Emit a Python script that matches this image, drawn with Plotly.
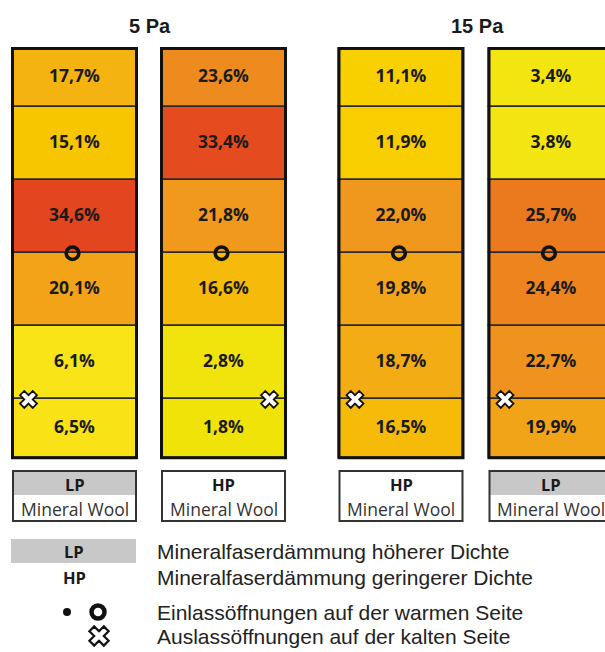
import numpy as np
import plotly.graph_objects as go

# ---------------- data ----------------
pressure_titles = ["5 Pa", "15 Pa"]
column_material = ["LP", "HP", "HP", "LP"]
material_name = "Mineral Wool"
# share of airflow per layer, top to bottom (%)
col_5pa_lp = [17.7, 15.1, 34.6, 20.1, 6.1, 6.5]
col_5pa_hp = [23.6, 33.4, 21.8, 16.6, 2.8, 1.8]
col_15pa_hp = [11.1, 11.9, 22.0, 19.8, 18.7, 16.5]
col_15pa_lp = [3.4, 3.8, 25.7, 24.4, 22.7, 19.9]
columns = [col_5pa_lp, col_5pa_hp, col_15pa_hp, col_15pa_lp]
inlet_boundary = 3     # boundary index of inlet opening (between rows 3 and 4)
outlet_boundary = 5    # boundary index of outlet opening
outlet_side = ["left", "right", "left", "left"]
legend_material = ["LP", "HP"]
legend_material_text = ["Mineralfaserdämmung höherer Dichte",
                        "Mineralfaserdämmung geringerer Dichte"]
legend_opening_text = ["Einlassöffnungen auf der warmen Seite",
                       "Auslassöffnungen auf der kalten Seite"]

# ---------------- layout constants ----------------
W, H = 605, 652
col_x = [74.5, 223.5, 401.0, 551.0]
col_w = 124.0
top = 48.5
unit = 73.1
row_h = np.array([0.8, 1, 1, 1, 1, 0.8]) * unit
bounds = top + np.concatenate([[0], np.cumsum(row_h)])
centers = (bounds[:-1] + bounds[1:]) / 2

colorscale = [
    [0.00, "#EDE000"],
    [0.10, "#F2E510"],
    [0.18, "#F9E418"],
    [0.32, "#F8D000"],
    [0.43, "#F8C600"],
    [0.50, "#F5B410"],
    [0.56, "#F2A617"],
    [0.63, "#F0971E"],
    [0.68, "#EE891E"],
    [0.735, "#EB7A1F"],
    [0.86, "#E6601F"],
    [1.00, "#E3431F"],
]

fig = go.Figure()

n_rows = len(col_5pa_lp)
for r in range(n_rows):
    vals = [c[r] for c in columns]
    fig.add_trace(go.Bar(
        x=col_x, y=[row_h[r]] * len(col_x), base=[bounds[r]] * len(col_x),
        width=col_w,
        marker=dict(color=vals, colorscale=colorscale, cmin=0, cmax=35,
                    line=dict(color="#2a2a2a", width=1.5)),
        showlegend=False, hoverinfo="skip",
    ))
    fig.add_trace(go.Scatter(
        x=col_x, y=[centers[r]] * len(col_x), mode="text",
        text=[f"{v:.1f}%".replace(".", ",") for v in vals],
        textfont=dict(family="Open Sans", size=17.5, color="#1a1a1a", weight="bold"),
        showlegend=False, hoverinfo="skip",
    ))

shapes = []
for cx in col_x:
    shapes.append(dict(type="rect", xref="x", yref="y", x0=cx - col_w / 2, x1=cx + col_w / 2,
                       y0=bounds[0], y1=bounds[-1], line=dict(color="#111111", width=3)))

# inlet circles
fig.add_trace(go.Scatter(
    x=[cx - 2 for cx in col_x], y=[bounds[inlet_boundary]] * len(col_x), mode="markers",
    marker=dict(symbol="circle-open", size=12.5, color="#111111", line=dict(width=3.6, color="#111111")),
    showlegend=False, hoverinfo="skip",
))
# outlet crosses
ox = [cx - col_w / 2 + 16 if s == "left" else cx + col_w / 2 - 16 for cx, s in zip(col_x, outlet_side)]
fig.add_trace(go.Scatter(
    x=ox, y=[bounds[outlet_boundary]] * len(col_x), mode="markers",
    marker=dict(symbol="x", size=15, color="white", line=dict(width=1.8, color="#111111")),
    showlegend=False, hoverinfo="skip",
))

annotations = []
# titles
for i, t in enumerate(pressure_titles):
    annotations.append(dict(xref="x", yref="y", x=(col_x[2 * i] + col_x[2 * i + 1]) / 2 + 1, y=26,
                            text=f"<b>{t}</b>", showarrow=False,
                            font=dict(family="Liberation Sans", size=20, color="#1a1a1a")))

# material label boxes
box_top, box_mid, box_bot = 471, 495, 521
for cx, m in zip(col_x, column_material):
    if m == "LP":
        shapes.append(dict(type="rect", xref="x", yref="y", x0=cx - col_w / 2, x1=cx + col_w / 2,
                           y0=box_top, y1=box_mid, fillcolor="#C8C8C8", line=dict(width=0), layer="below"))
    shapes.append(dict(type="rect", xref="x", yref="y", x0=cx - col_w / 2 + 0.5, x1=cx + col_w / 2 - 0.5,
                       y0=box_top, y1=box_bot, line=dict(color="#333333", width=2)))
    annotations.append(dict(xref="x", yref="y", x=cx, y=(box_top + box_mid) / 2 + 1, text=f"<b>{m}</b>",
                            showarrow=False, font=dict(family="Open Sans", size=16.5, color="#1a1a1a")))
    annotations.append(dict(xref="x", yref="y", x=cx, y=(box_mid + box_bot) / 2 + 1, text=material_name,
                            showarrow=False, font=dict(family="Open Sans", size=17.5, color="#333333")))

# legend
shapes.append(dict(type="rect", xref="x", yref="y", x0=11, x1=136, y0=539, y1=563,
                   fillcolor="#C8C8C8", line=dict(width=0), layer="below"))
leg_y = [551, 577, 612, 636]
for i, m in enumerate(legend_material):
    annotations.append(dict(xref="x", yref="y", x=74, y=leg_y[i], text=f"<b>{m}</b>", showarrow=False,
                            font=dict(family="Open Sans", size=16.5, color="#1a1a1a")))
for i, t in enumerate(legend_material_text + legend_opening_text):
    annotations.append(dict(xref="x", yref="y", x=155, y=leg_y[i], text=t, showarrow=False,
                            xanchor="left", font=dict(family="Liberation Sans", size=21, color="#222222")))

fig.add_trace(go.Scatter(x=[67], y=[leg_y[2]], mode="markers",
                         marker=dict(symbol="circle", size=8, color="#111111"),
                         showlegend=False, hoverinfo="skip"))
fig.add_trace(go.Scatter(x=[98], y=[leg_y[2]], mode="markers",
                         marker=dict(symbol="circle-open", size=13, color="#111111",
                                     line=dict(width=4.5, color="#111111")),
                         showlegend=False, hoverinfo="skip"))
fig.add_trace(go.Scatter(x=[99], y=[leg_y[3]], mode="markers",
                         marker=dict(symbol="x", size=17, color="white", line=dict(width=2.2, color="#111111")),
                         showlegend=False, hoverinfo="skip"))

fig.update_layout(
    width=W, height=H, margin=dict(l=0, r=0, t=0, b=0),
    paper_bgcolor="white", plot_bgcolor="white",
    barmode="overlay", bargap=0,
    xaxis=dict(range=[0, W], visible=False, fixedrange=True),
    yaxis=dict(range=[H, 0], visible=False, fixedrange=True),
    shapes=shapes, annotations=annotations,
)

fig.write_html("out.html", config={"displayModeBar": False},
               post_script="document.body.style.margin='0';document.body.style.overflow='hidden';")
